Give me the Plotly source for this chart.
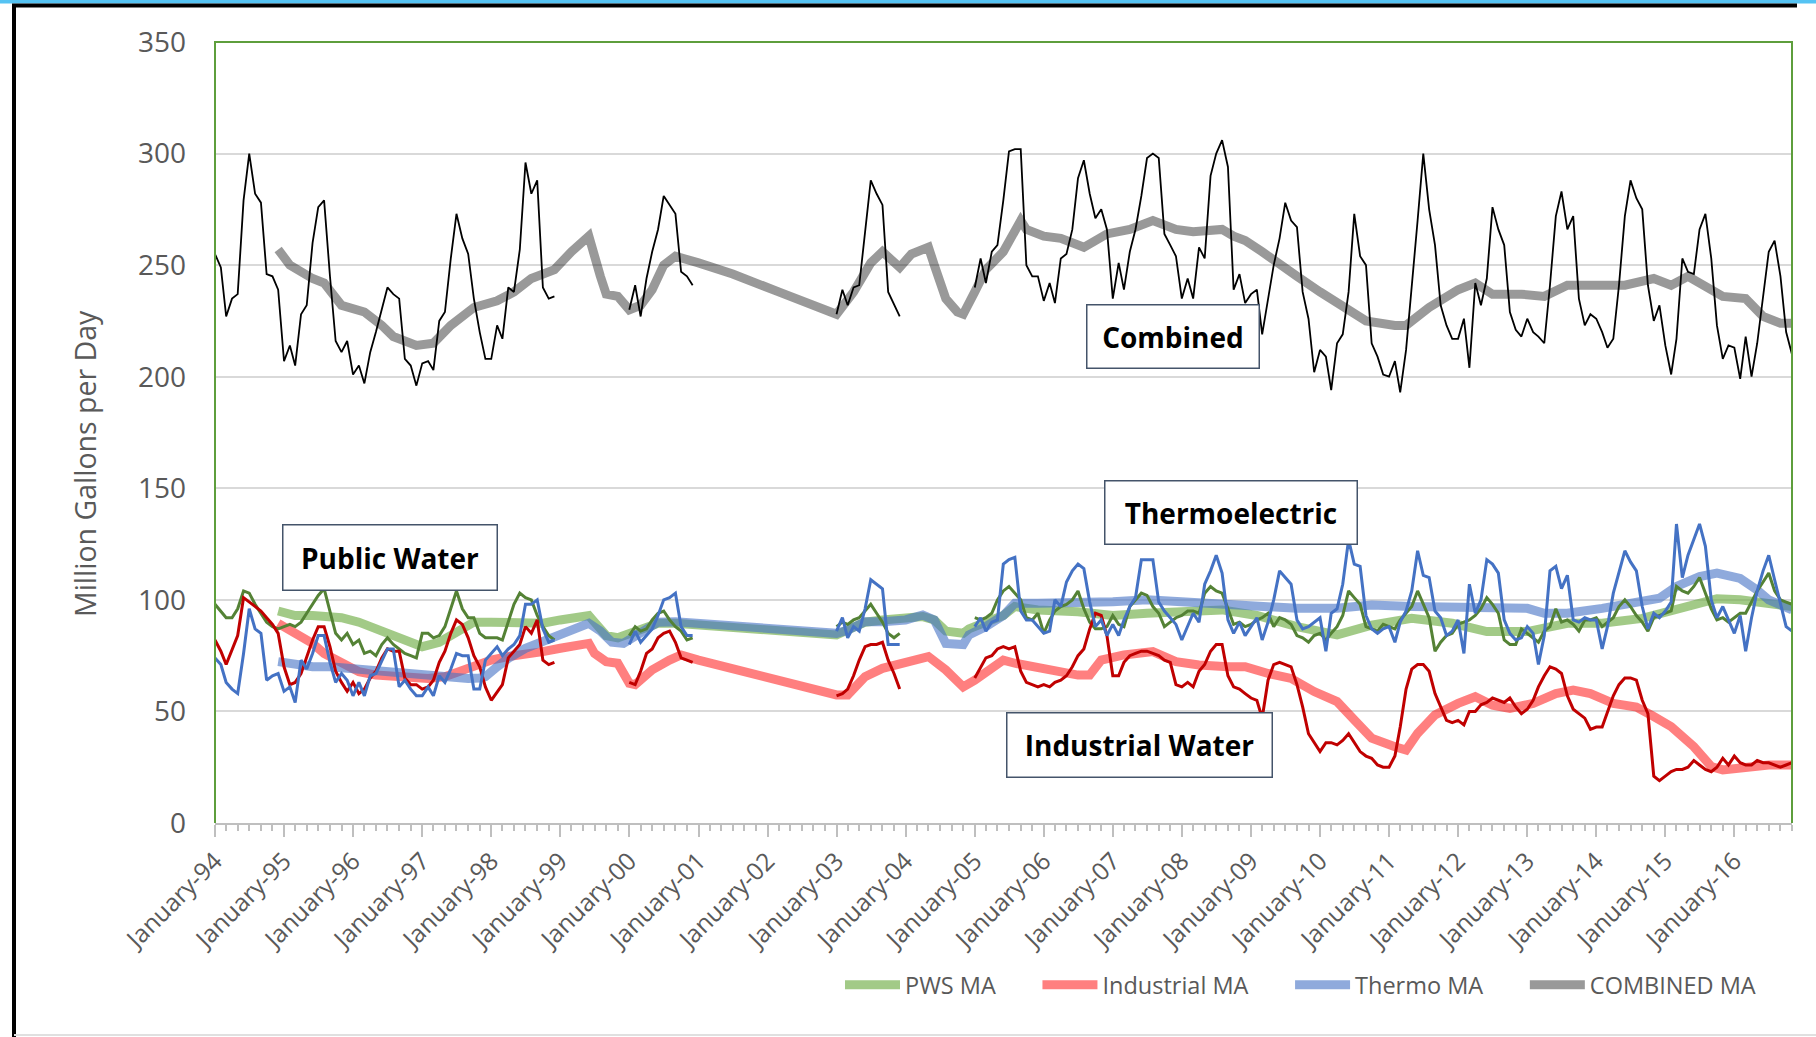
import pandas as pd
import plotly.graph_objects as go

# ---------------- axis / categories ----------------
START = "1994-01-01"
END = "2016-11-01"
months = pd.date_range(START, END, freq="MS")
y_ticks = [0, 50, 100, 150, 200, 250, 300, 350]

# ---------------- monthly data (MGD), one row per year ----------------
combined_1994 = [
    255, 249, 227, 235, 237, 279, 300, 282, 278, 246, 245, 239,
    207, 214, 205, 228, 232, 260, 276, 279, 245, 216, 211, 216,
    201, 205, 197, 211, 220, 230, 240, 237, 235, 208, 205, 196,
    206, 207, 203, 225, 229, 253, 273, 262, 255, 235, 220, 208,
    208, 223, 217, 240, 238, 257, 296, 282, 288, 240, 235, 236]
combined_2000 = [230, 241, 227, 244, 256, 266, 281, 277, 273, 247, 245, 241]
combined_2003 = [228, 239, 232, 240, 241, 265, 288, 282, 277, 238, 232, 227]
combined_2005 = [
    240, 253, 242, 256, 259, 279, 301, 302, 302, 250, 245, 245,
    234, 242, 233, 253, 255, 266, 289, 297, 282, 271, 275, 266,
    235, 251, 239, 256, 266, 281, 298, 300, 298, 264, 259, 254,
    235, 244, 235, 258, 253, 290, 300, 306, 294, 239, 246, 233,
    237, 239, 219, 234, 250, 262, 278, 270, 267, 238, 226, 202,
    212, 209, 194, 215, 219, 238, 273, 254, 250, 215, 209, 201,
    200, 207, 193, 212, 239, 270, 300, 275, 259, 232, 223, 217,
    217, 226, 204, 242, 232, 244, 276, 266, 259, 229, 221, 218,
    226, 220, 218, 215, 241, 272, 283, 266, 272, 235, 223, 228,
    226, 220, 213, 217, 241, 272, 288, 280, 275, 241, 225, 232,
    214, 201, 217, 253, 247, 246, 266, 273, 253, 223, 208, 214,
    213, 199, 218, 200, 215, 235, 256, 261, 245, 220, 210]

pws_1994 = [
    98, 95, 92, 92, 96, 104, 103, 98, 94, 90, 88, 87,
    88, 89, 88, 90, 94, 98, 102, 105, 95, 85, 82, 85,
    80, 82, 76, 77, 75, 80, 83, 80, 78, 76, 75, 74,
    85, 85, 83, 84, 88, 96, 104, 96, 92, 92, 85, 83,
    83, 83, 82, 90, 98, 103, 101, 100, 93, 88, 84, 82]
pws_2000 = [84, 88, 86, 87, 91, 94, 95, 91, 88, 86, 82, 83]
pws_2003 = [88, 90, 89, 91, 92, 95, 98, 94, 90, 85, 83, 85]
pws_2005 = [
    92, 91, 92, 94, 100, 104, 106, 103, 100, 92, 91, 94,
    85, 91, 95, 97, 98, 100, 104, 96, 90, 87, 87, 88,
    93, 89, 88, 97, 100, 103, 102, 97, 94, 88, 90, 92,
    93, 95, 95, 94, 103, 106, 104, 103, 96, 89, 90, 88,
    89, 91, 92, 94, 88, 92, 91, 89, 84, 83, 81, 84,
    85, 82, 85, 88, 93, 104, 101, 98, 88, 87, 86, 89,
    88, 87, 91, 94, 97, 104, 98, 92, 77, 81, 84, 85,
    89, 90, 91, 93, 96, 101, 98, 94, 82, 80, 80, 87,
    85, 83, 81, 86, 88, 96, 90, 91, 89, 86, 91, 91,
    92, 88, 90, 92, 97, 100, 97, 93, 90, 86, 92, 93,
    94, 95, 106, 104, 103, 106, 110, 103, 96, 91, 92, 90,
    92, 94, 94, 99, 104, 108, 112, 104, 100, 99, 98]

industrial_1994 = [
    82, 77, 71, 78, 84, 101, 99, 97, 95, 92, 89, 85,
    70, 62, 63, 67, 74, 82, 88, 88, 79, 68, 63, 59,
    63, 58, 60, 65, 68, 74, 78, 77, 77, 65, 62, 62,
    60, 61, 64, 72, 77, 85, 91, 89, 83, 75, 70, 61,
    55, 59, 62, 74, 77, 80, 88, 85, 91, 73, 71, 72]
industrial_2000 = [63, 62, 68, 76, 78, 83, 85, 86, 81, 74, 73, 72]
industrial_2003 = [57, 58, 60, 66, 73, 79, 80, 80, 81, 73, 67, 60]
industrial_2005 = [
    65, 70, 74, 75, 78, 79, 78, 79, 68, 63, 62, 61,
    62, 61, 63, 64, 66, 70, 75, 78, 87, 94, 93, 84,
    66, 66, 72, 75, 76, 77, 77, 76, 75, 73, 72, 62,
    61, 63, 61, 68, 71, 77, 80, 80, 66, 61, 60, 58,
    56, 55, 47, 64, 71, 72, 71, 70, 62, 52, 40, 36,
    32, 36, 36, 35, 37, 40, 36, 32, 30, 29, 26, 25,
    25, 30, 43, 60, 69, 71, 71, 68, 58, 52, 46, 45,
    46, 44, 50, 50, 53, 54, 56, 55, 54, 56, 52, 49,
    51, 55, 61, 66, 70, 69, 67, 57, 51, 49, 47, 42,
    43, 43, 50, 57, 62, 65, 65, 64, 55, 49, 21, 19,
    21, 23, 24, 24, 25, 28, 26, 24, 23, 25, 29, 26,
    30, 27, 26, 26, 28, 27, 27, 26, 25, 26, 27]

thermo_1994 = [
    74, 71, 63, 60, 58, 76, 96, 87, 85, 64, 66, 67,
    59, 61, 54, 73, 69, 76, 84, 84, 72, 63, 67, 64,
    57, 63, 57, 66, 67, 73, 78, 78, 61, 64, 60, 57,
    57, 61, 57, 66, 63, 69, 76, 75, 75, 60, 60, 73,
    76, 79, 75, 78, 80, 84, 98, 98, 100, 87, 81, 82]
thermo_2000 = [80, 86, 81, 84, 87, 93, 100, 101, 103, 88, 84, 84]
thermo_2003 = [86, 92, 83, 88, 86, 96, 109, 107, 105, 80, 80, 80]
thermo_2005 = [
    88, 92, 86, 90, 91, 116, 118, 119, 95, 91, 91, 88,
    85, 86, 100, 97, 108, 113, 116, 114, 99, 88, 91, 84,
    89, 84, 91, 97, 101, 118, 118, 118, 99, 95, 92, 89,
    82, 88, 94, 90, 107, 113, 120, 112, 91, 85, 90, 84,
    88, 92, 82, 90, 100, 113, 110, 107, 91, 87, 88, 90,
    92, 77, 94, 96, 107, 127, 116, 115, 93, 87, 85, 87,
    88, 81, 90, 95, 104, 122, 111, 110, 95, 92, 84, 86,
    91, 76, 107, 94, 100, 118, 116, 112, 91, 85, 82, 83,
    88, 85, 71, 84, 113, 115, 105, 111, 91, 90, 92, 91,
    91, 78, 88, 103, 113, 122, 117, 113, 97, 87, 94, 92,
    95, 99, 134, 110, 120, 127, 134, 124, 100, 92, 97, 91,
    85, 93, 77, 92, 104, 113, 120, 109, 98, 88, 86]

# ---------------- moving averages (month offset from Jan-94, value) ----------------
combined_ma_m = [11, 13, 17, 19, 22, 26, 29, 31, 35, 38, 41, 45, 49, 52, 55, 59, 62, 65, 67, 68,
                 70, 72, 74, 76, 78, 80, 84, 90, 98, 108, 111, 114, 116, 119, 121, 124, 125, 127,
                 129, 130, 132, 134, 137, 140, 141, 144, 147, 151, 155, 159, 163, 167, 170, 175,
                 177, 179, 182, 185, 188, 192, 196, 200, 205, 207, 211, 216, 219, 222, 227, 231,
                 235, 240, 245, 250, 253, 256, 259, 262, 266, 269, 272, 274]
combined_ma_v = [257, 250, 244, 242, 232, 229, 223, 218, 214, 215, 223, 231, 234, 238, 244, 248, 256,
                 263, 245, 237, 236, 230, 232, 239, 250, 254, 251, 246, 238, 228, 238, 251, 256, 249,
                 255, 258, 250, 235, 229, 228, 238, 248, 256, 270, 266, 263, 262, 258, 264, 266, 270,
                 266, 265, 266, 263, 261, 256, 251, 245, 238, 232, 225, 223, 223, 231, 239, 242, 237,
                 237, 236, 241, 241, 241, 244, 241, 245, 241, 236, 235, 227, 224, 224]

pws_ma_m = [11, 14, 17, 19, 22, 25, 28, 31, 34, 36, 39, 42, 45, 48, 51, 54, 57, 60, 63, 65, 66, 68,
            70, 72, 75, 77, 80, 84, 108, 110, 113, 116, 120, 123, 125, 127, 130, 131, 134, 137, 139,
            143, 150, 156, 162, 168, 175, 181, 188, 195, 201, 208, 215, 221, 228, 235, 241, 248,
            254, 258, 261, 265, 269, 274]
pws_ma_v = [95, 93, 93, 92.5, 92, 90, 87, 83.5, 80, 79, 81, 86, 90, 90, 90, 89.5, 89.5, 91, 92.5, 93,
            90, 84, 83, 85, 87, 89.5, 89.5, 88.7, 84.3, 86.5, 90, 91, 91.7, 92.5, 91, 86, 85, 87, 90,
            93, 97, 95.5, 94.7, 93, 94, 94.7, 95.5, 93, 88, 84.3, 88.7, 91.7, 89.5, 85.8, 85.8, 89.5,
            89.5, 91.7, 95.5, 98.5, 100.5, 100, 98.5, 97]

industrial_ma_m = [11, 14, 17, 19, 22, 25, 28, 31, 34, 37, 40, 43, 46, 48, 51, 54, 57, 60, 63, 65,
                   66, 68, 70, 72, 73, 76, 79, 81, 84, 108, 110, 113, 116, 119, 124, 127, 130, 132,
                   135, 137, 139, 143, 147, 150, 152, 154, 158, 163, 167, 171, 176, 179, 183, 187,
                   191, 195, 198, 201, 205, 207, 209, 212, 216, 219, 222, 225, 229, 233, 236, 239,
                   243, 247, 250, 253, 257, 260, 262, 266, 270, 274]
industrial_ma_v = [89.5, 85, 80.5, 76, 71.6, 67.8, 66.3, 65.6, 64.8, 64.8, 65.6, 68.6, 71.6, 73,
                   74.6, 75.3, 76.8, 78.3, 80.2, 80.5, 76, 72.3, 71.6, 62.6, 62, 68.6, 73, 75.3, 73,
                   57.4, 57.4, 65.6, 69.3, 71.6, 74.6, 68.6, 61, 64, 70, 73, 71.6, 69.3, 67.8, 66.3,
                   66.3, 73, 75.3, 76.8, 72.3, 70.8, 70, 70, 67, 64.8, 58.9, 54.4, 46.2, 38, 34.2,
                   32.7, 40.2, 48.4, 53.6, 56.6, 52.8, 51.4, 53.6, 58, 59.6, 58, 53.6, 52, 47.7,
                   43.2, 34.2, 25.3, 23.8, 25.3, 26, 26]

thermo_ma_m = [11, 14, 17, 20, 23, 26, 29, 32, 35, 38, 41, 44, 46, 47, 49, 51, 54, 57, 60, 63, 65,
               67, 69, 71, 72, 75, 77, 80, 84, 108, 110, 113, 116, 120, 123, 125, 127, 130, 131, 134,
               137, 139, 143, 150, 156, 162, 168, 175, 181, 188, 195, 201, 208, 215, 221, 228, 231,
               235, 241, 248, 251, 254, 258, 261, 265, 268, 270, 274]
thermo_ma_v = [72.3, 71, 70, 70, 69.3, 68.6, 67.8, 67, 66.3, 66, 65.6, 64.8, 65, 65.6, 70, 73.8,
               78.3, 81.3, 84.3, 87.3, 89.5, 86, 81, 80.5, 82, 86, 90, 90.2, 89.5, 85, 86.5, 90.2,
               90.2, 91, 93.2, 91, 80.5, 80, 84.3, 88, 93, 98.5, 98.5, 98.5, 99.2, 100, 99.2, 98.5,
               97, 96.2, 96.2, 97.7, 97, 97, 97, 96.2, 94, 94, 96.2, 100, 100.7, 106, 110.4, 112,
               109.6, 104.4, 100, 95.5]


def monthly(segments):
    parts = [pd.Series(vals, index=pd.date_range(start, periods=len(vals), freq="MS"))
             for start, vals in segments]
    return pd.concat(parts).reindex(months)


def offset_dates(ms):
    base = pd.Timestamp(START)
    return [base + pd.DateOffset(months=int(m)) for m in ms]


combined = monthly([("1994-01-01", combined_1994), ("2000-01-01", combined_2000),
                    ("2003-01-01", combined_2003), ("2005-01-01", combined_2005)])
pws = monthly([("1994-01-01", pws_1994), ("2000-01-01", pws_2000),
               ("2003-01-01", pws_2003), ("2005-01-01", pws_2005)])
industrial = monthly([("1994-01-01", industrial_1994), ("2000-01-01", industrial_2000),
                      ("2003-01-01", industrial_2003), ("2005-01-01", industrial_2005)])
thermo = monthly([("1994-01-01", thermo_1994), ("2000-01-01", thermo_2000),
                  ("2003-01-01", thermo_2003), ("2005-01-01", thermo_2005)])

fig = go.Figure()

PAD = "\u00a0" * 6
# moving averages (legend entries)
ma_specs = [
    ("PWS MA" + PAD, pws_ma_m, pws_ma_v, "rgba(112,173,71,0.65)"),
    ("Industrial MA" + PAD, industrial_ma_m, industrial_ma_v, "rgba(255,0,0,0.5)"),
    ("Thermo MA" + PAD, thermo_ma_m, thermo_ma_v, "rgba(68,114,196,0.6)"),
    ("COMBINED MA", combined_ma_m, combined_ma_v, "rgba(0,0,0,0.4)"),
]
for name, ms, vs, col in ma_specs:
    fig.add_trace(go.Scatter(x=offset_dates(ms), y=vs, mode="lines", name=name,
                             line=dict(color=col, width=9), hoverinfo="skip"))

# monthly raw series
raw_specs = [
    (pws, "#548235", 3),
    (industrial, "#C00000", 3),
    (thermo, "#4472C4", 3),
    (combined, "#000000", 1.8),
]
for s, col, w in raw_specs:
    fig.add_trace(go.Scatter(x=s.index, y=s.values, mode="lines", showlegend=False,
                             connectgaps=False, line=dict(color=col, width=w), hoverinfo="skip"))

# ---------------- layout ----------------
W, H = 1816, 1037
ML, MR, MT, MB = 215, 24, 42, 214
PW, PH = W - ML - MR, H - MT - MB


def px(x):
    return (x - ML) / PW


def py(y):
    return (H - MB - y) / PH


GRAY = "#595959"
FONT = "Open Sans"

fig.update_layout(
    width=W, height=H, autosize=False,
    margin=dict(l=ML, r=MR, t=MT, b=MB, pad=0),
    paper_bgcolor="white", plot_bgcolor="white",
    font=dict(family=FONT, color=GRAY),
    showlegend=True,
    legend=dict(orientation="h", x=px(840), y=py(985), xanchor="left", yanchor="middle",
                font=dict(family=FONT, size=23.5, color=GRAY), bgcolor="rgba(0,0,0,0)",
                traceorder="normal", itemwidth=55),
    xaxis=dict(
        type="date", range=[START, END],
        tickmode="linear", tick0=START, dtick="M12", tickformat="%B-%y",
        tickangle=-45, tickfont=dict(family=FONT, size=24.5, color=GRAY),
        showline=True, linecolor="#BFBFBF", linewidth=2,
        ticks="outside", ticklen=12, tickwidth=1.5, tickcolor="#BFBFBF",
        showgrid=False, zeroline=False,
        minor=dict(dtick="M2", tick0=START, ticks="outside", ticklen=6,
                   tickwidth=1.5, tickcolor="#BFBFBF", showgrid=False),
    ),
    yaxis=dict(
        range=[0, 350], tickmode="array", tickvals=y_ticks,
        showgrid=True, gridcolor="#D9D9D9", gridwidth=2,
        zeroline=False, showline=False, ticks="",
        tickfont=dict(family=FONT, size=28, color=GRAY), ticklabelstandoff=28,
    ),
)

# y-axis title
fig.add_annotation(text="Million Gallons per Day", xref="paper", yref="paper",
                   x=px(85), y=py(464), textangle=-90, showarrow=False,
                   xanchor="center", yanchor="middle",
                   font=dict(family=FONT, size=28.5, color=GRAY))

# label boxes
boxes = [
    ("Combined", 1172.5, 336.5, 171, 62),
    ("Thermoelectric", 1231, 512, 251, 62),
    ("Public Water", 389.5, 557, 213, 64),
    ("Industrial Water", 1139, 745, 264, 63),
]
for txt, cx, cy, bw, bh in boxes:
    fig.add_annotation(text=txt, xref="paper", yref="paper", x=px(cx), y=py(cy),
                       xanchor="center", yanchor="middle", showarrow=False,
                       width=bw, height=bh, borderpad=0, borderwidth=1.5,
                       bordercolor="#44546A", bgcolor="white", align="center", valign="middle",
                       font=dict(family=FONT, size=28, color="black", weight="bold"))

# plot-area border (green on left, top and right) and outer frame
fig.add_shape(type="path", xref="paper", yref="paper", path="M 0,0 L 0,1 L 1,1 L 1,0",
              line=dict(color="#5E9E3C", width=2))
fig.add_shape(type="rect", xref="paper", yref="paper", x0=px(0), x1=px(W), y0=py(0), y1=py(3.5),
              fillcolor="#55C3F3", line=dict(width=0))
fig.add_shape(type="line", xref="paper", yref="paper", x0=px(12), x1=px(1797), y0=py(5.5),
              y1=py(5.5), line=dict(color="black", width=4))
fig.add_shape(type="line", xref="paper", yref="paper", x0=px(14), x1=px(14), y0=py(4),
              y1=py(H), line=dict(color="black", width=4))
fig.add_shape(type="line", xref="paper", yref="paper", x0=px(14), x1=px(W), y0=py(1035),
              y1=py(1035), line=dict(color="#E0E0E0", width=2))

fig.write_html("out.html", config={"displayModeBar": False},
               post_script="document.body.style.margin='0';document.body.style.overflow='hidden';")
